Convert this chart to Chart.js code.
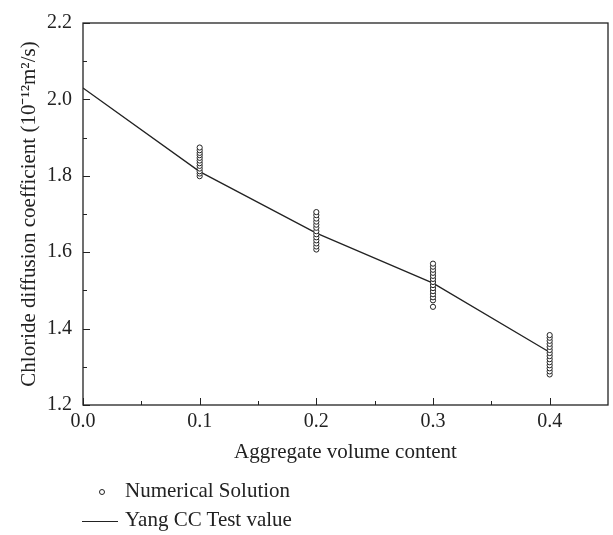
<!DOCTYPE html>
<html>
<head>
<meta charset="utf-8">
<script src="https://cdn.jsdelivr.net/npm/chart.js@4"></script>
<style>
  body { margin: 0; background: #fff; }
  #wrap { position: relative; width: 613px; height: 535px; }
  .leg { position: absolute; font: 21px "Liberation Serif", serif; color: #222; white-space: nowrap; }
  .dot { position: absolute; width: 4px; height: 4px; border: 1.2px solid #222; border-radius: 50%; background: #fff; }
  .dash { position: absolute; height: 0; border-top: 1.3px solid #222; }
</style>
</head>
<body>
<div id="wrap">
  <canvas id="myChart" width="613" height="535"></canvas>
  <span class="dot" style="left:99px; top:489px;"></span>
  <span class="leg" style="left:125px; top:478px;">Numerical Solution</span>
  <span class="dash" style="left:82px; width:36px; top:521px;"></span>
  <span class="leg" style="left:125px; top:507px;">Yang CC Test value</span>
</div>
<script>
// numerical solution, several runs for each aggregate content
var xNum = [0.1, 0.2, 0.3, 0.4];
var yNum = [
  [1.799, 1.806, 1.812, 1.819, 1.826, 1.833, 1.840, 1.847, 1.854, 1.860, 1.867, 1.874],
  [1.607, 1.615, 1.623, 1.631, 1.639, 1.647, 1.655, 1.664, 1.672, 1.680, 1.688, 1.697, 1.705],
  [1.457, 1.474, 1.482, 1.490, 1.498, 1.506, 1.514, 1.522, 1.530, 1.538, 1.546, 1.554, 1.562, 1.570],
  [1.280, 1.288, 1.296, 1.304, 1.312, 1.320, 1.328, 1.336, 1.344, 1.352, 1.360, 1.368, 1.376, 1.383]
];
// Yang CC test value line
var xTest = [0.0, 0.1, 0.2, 0.3, 0.4];
var yTest = [2.030, 1.811, 1.650, 1.519, 1.338];

var xMajor = [0.0, 0.1, 0.2, 0.3, 0.4];
var xMinor = [0.05, 0.15, 0.25, 0.35];
var yMajor = [1.2, 1.4, 1.6, 1.8, 2.0, 2.2];
var yMinor = [1.3, 1.5, 1.7, 1.9, 2.1];

var numPoints = [];
xNum.forEach(function (x, i) {
  yNum[i].forEach(function (y) { numPoints.push({x: x, y: y}); });
});
var testPoints = xTest.map(function (x, i) { return {x: x, y: yTest[i]}; });

var ink = "#222";
var serif = "'Liberation Serif', serif";

// frame around the plot and inward tick marks
var framePlugin = {
  id: "frame",
  afterDraw: function (chart) {
    var ctx = chart.ctx, a = chart.chartArea;
    var sx = chart.scales.x, sy = chart.scales.y;
    ctx.save();
    ctx.strokeStyle = ink;
    ctx.lineWidth = 1.3;
    ctx.strokeRect(a.left, a.top, a.right - a.left, a.bottom - a.top);
    ctx.lineWidth = 1;
    ctx.beginPath();
    xMajor.forEach(function (v) { var p = Math.round(sx.getPixelForValue(v)) + 0.5; ctx.moveTo(p, a.bottom); ctx.lineTo(p, a.bottom - 7); });
    xMinor.forEach(function (v) { var p = Math.round(sx.getPixelForValue(v)) + 0.5; ctx.moveTo(p, a.bottom); ctx.lineTo(p, a.bottom - 4); });
    yMajor.forEach(function (v) { var p = Math.round(sy.getPixelForValue(v)) + 0.5; ctx.moveTo(a.left, p); ctx.lineTo(a.left + 7, p); });
    yMinor.forEach(function (v) { var p = Math.round(sy.getPixelForValue(v)) + 0.5; ctx.moveTo(a.left, p); ctx.lineTo(a.left + 4, p); });
    ctx.stroke();
    ctx.restore();
  }
};

new Chart("myChart", {
  type: "scatter",
  data: {
    datasets: [{
      label: "Numerical Solution",
      data: numPoints,
      pointRadius: 2.6,
      pointBorderWidth: 1,
      pointBorderColor: ink,
      pointBackgroundColor: "#fff",
      showLine: false,
      order: 1
    }, {
      label: "Yang CC Test value",
      data: testPoints,
      showLine: true,
      borderColor: ink,
      borderWidth: 1.3,
      pointRadius: 0,
      tension: 0,
      order: 2
    }]
  },
  options: {
    responsive: false,
    animation: false,
    layout: { padding: { left: 0, right: 4, top: 18, bottom: 60 } },
    plugins: { legend: { display: false }, tooltip: { enabled: false } },
    scales: {
      x: {
        type: "linear",
        min: 0, max: 0.45,
        afterFit: function (s) { s.height = 70; },
        afterBuildTicks: function (s) { s.ticks = xMajor.map(function (v) { return {value: v}; }); },
        grid: { display: false, drawTicks: false },
        border: { display: false },
        ticks: { color: ink, padding: 5, font: { family: serif, size: 20 }, callback: function (v) { return v.toFixed(1); } },
        title: { display: true, text: "Aggregate volume content", color: ink, font: { family: serif, size: 21 }, padding: { top: 0, bottom: 10 } }
      },
      y: {
        type: "linear",
        min: 1.2, max: 2.2,
        afterFit: function (s) { s.width = 83; },
        afterBuildTicks: function (s) { s.ticks = yMajor.map(function (v) { return {value: v}; }); },
        grid: { display: false, drawTicks: false },
        border: { display: false },
        ticks: { color: ink, padding: 11, font: { family: serif, size: 20 }, callback: function (v) { return v.toFixed(1); } },
        title: { display: true, text: "Chloride diffusion coefficient (10\u207B\u00B9\u00B2m\u00B2/s)", color: ink, font: { family: serif, size: 21 }, padding: { top: 17, bottom: 0 } }
      }
    }
  },
  plugins: [framePlugin]
});
</script>
</body>
</html>
